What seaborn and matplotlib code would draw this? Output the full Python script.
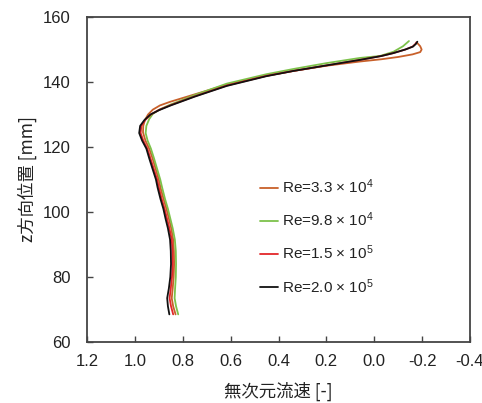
import numpy as np
import pandas as pd
import matplotlib
matplotlib.use("Agg")
import matplotlib.pyplot as plt
import seaborn as sns

# ---- data ----
labels = ["Re=3.3 × 10$^4$", "Re=9.8 × 10$^4$",
          "Re=1.5 × 10$^5$", "Re=2.0 × 10$^5$"]
colors = ["#C8602A", "#7DC24B", "#E3262A", "#111111"]

# Re=3.3e4 (orange)
u_33 = [0.830, 0.840, 0.846, 0.842, 0.838, 0.836, 0.837, 0.840, 0.848, 0.858, 0.868,
        0.880, 0.893, 0.900, 0.912, 0.926, 0.940, 0.956, 0.966, 0.965, 0.958, 0.945,
        0.925, 0.895, 0.853, 0.75, 0.616, 0.45, 0.338, 0.20, 0.06, -0.03, -0.10,
        -0.16, -0.192, -0.198, -0.192, -0.181]
z_33 = [68.5, 71.0, 73.5, 76.5, 80.0, 84.0, 88.0, 91.5, 95.0, 98.0, 101.0,
        104.0, 107.5, 110.0, 113.0, 116.5, 119.5, 122.0, 124.5, 126.5, 128.3, 130.0,
        131.5, 132.8, 133.9, 136.2, 139.2, 141.9, 143.4, 145.0, 146.3, 147.0, 147.7,
        148.5, 149.2, 150.0, 151.0, 151.9]

# Re=9.8e4 (green)
u_98 = [0.819, 0.828, 0.834, 0.832, 0.829, 0.828, 0.829, 0.833, 0.842, 0.852, 0.862,
        0.874, 0.886, 0.894, 0.906, 0.920, 0.933, 0.947, 0.955, 0.952, 0.940, 0.925,
        0.895, 0.853, 0.75, 0.616, 0.45, 0.338, 0.20, 0.06, -0.024, -0.08, -0.12,
        -0.145]
z_98 = [68.5, 71.0, 73.5, 76.5, 80.0, 84.0, 88.0, 91.5, 95.0, 98.0, 101.0,
        104.0, 107.5, 110.0, 113.0, 116.5, 119.5, 122.0, 124.3, 126.5, 128.6, 130.2,
        131.6, 133.0, 136.0, 139.5, 142.4, 144.0, 145.8, 147.4, 148.0, 149.3, 151.0,
        152.6]

# Re=1.5e5 (red)
u_15 = [0.840, 0.849, 0.855, 0.850, 0.845, 0.842, 0.843, 0.846, 0.856, 0.866, 0.876,
        0.888, 0.900, 0.907, 0.920, 0.935, 0.948, 0.965, 0.976, 0.973, 0.957, 0.933,
        0.90, 0.85, 0.75, 0.616, 0.45, 0.338, 0.20, 0.06, -0.03, -0.08, -0.13,
        -0.160, -0.172, -0.176]
z_15 = [68.5, 71.0, 73.5, 76.5, 80.0, 84.0, 88.0, 91.5, 95.0, 98.0, 101.0,
        104.0, 107.5, 110.0, 113.0, 116.5, 119.5, 122.0, 124.3, 126.5, 128.3, 130.0,
        131.4, 132.9, 135.6, 138.9, 141.9, 143.4, 145.1, 146.8, 148.0, 148.9, 150.0,
        150.9, 151.7, 152.2]

# Re=2.0e5 (black)
u_20 = [0.856, 0.862, 0.865, 0.858, 0.852, 0.849, 0.850, 0.853, 0.862, 0.872, 0.881,
        0.893, 0.905, 0.912, 0.925, 0.940, 0.952, 0.970, 0.982, 0.978, 0.960, 0.935,
        0.90, 0.85, 0.75, 0.616, 0.45, 0.338, 0.20, 0.06, -0.03, -0.08, -0.13,
        -0.162, -0.175, -0.180]
z_20 = [68.5, 71.0, 73.5, 76.5, 80.0, 84.0, 88.0, 91.5, 95.0, 98.0, 101.0,
        104.0, 107.5, 110.0, 113.0, 116.5, 119.5, 122.0, 124.3, 126.5, 128.3, 130.0,
        131.3, 132.8, 135.5, 138.8, 141.8, 143.4, 145.1, 146.8, 148.0, 148.9, 150.0,
        150.9, 151.8, 152.4]

x_ticks = [1.2, 1.0, 0.8, 0.6, 0.4, 0.2, 0.0, -0.2, -0.4]
y_ticks = [60, 80, 100, 120, 140, 160]

frames = []
for lab, u, z in zip(labels, [u_33, u_98, u_15, u_20], [z_33, z_98, z_15, z_20]):
    frames.append(pd.DataFrame({"u": u, "z": z, "Re": lab, "idx": np.arange(len(u))}))
df = pd.concat(frames, ignore_index=True)

# ---- style ----
sns.set_style("ticks")
plt.rcParams["font.family"] = ["Liberation Sans", "Noto Sans CJK JP", "DejaVu Sans"]
plt.rcParams["axes.unicode_minus"] = False
plt.rcParams["mathtext.fontset"] = "custom"
plt.rcParams["mathtext.rm"] = "Liberation Sans"
plt.rcParams["mathtext.it"] = "Liberation Sans"

fig = plt.figure(figsize=(4.82, 4.03), dpi=100)
ax = fig.add_axes([87 / 482, (403 - 342) / 403, (470 - 87) / 482, (342 - 17) / 403])

sns.lineplot(data=df, x="u", y="z", hue="Re", palette=colors, sort=False,
             estimator=None, units="Re", linewidth=1.3, ax=ax, legend=True)

ax.set_xlim(1.2, -0.4)
ax.set_ylim(60, 160)
ax.set_xticks(x_ticks)
ax.set_xticklabels([f"{v:.1f}" for v in x_ticks])
ax.set_yticks(y_ticks)
ax.tick_params(direction="in", length=4, width=1, color="#444444",
               labelsize=12, labelcolor="#222222")
ax.tick_params(axis="x", pad=9)
ax.tick_params(axis="y", pad=12)
for s in ax.spines.values():
    s.set_color("#444444")
    s.set_linewidth(1.3)

jp = ["Noto Sans CJK JP", "DejaVu Sans"]
ax.set_xlabel("無次元流速 [-]", family=jp, fontsize=12.5, color="#222222", labelpad=9)
ax.set_ylabel("z方向位置 [mm]", family=jp, fontsize=12.5, color="#222222", labelpad=4)

handles, labs = ax.get_legend_handles_labels()
leg = ax.legend(handles, labs, loc="upper left", bbox_to_anchor=(252 / 482, 1 - 170 / 403),
                bbox_transform=fig.transFigure, frameon=False, fontsize=11,
                handlelength=1.2, handletextpad=0.25, labelspacing=0.95, borderpad=0)
for t in leg.get_texts():
    t.set_color("#222222")

fig.savefig("out.png", dpi=100)
